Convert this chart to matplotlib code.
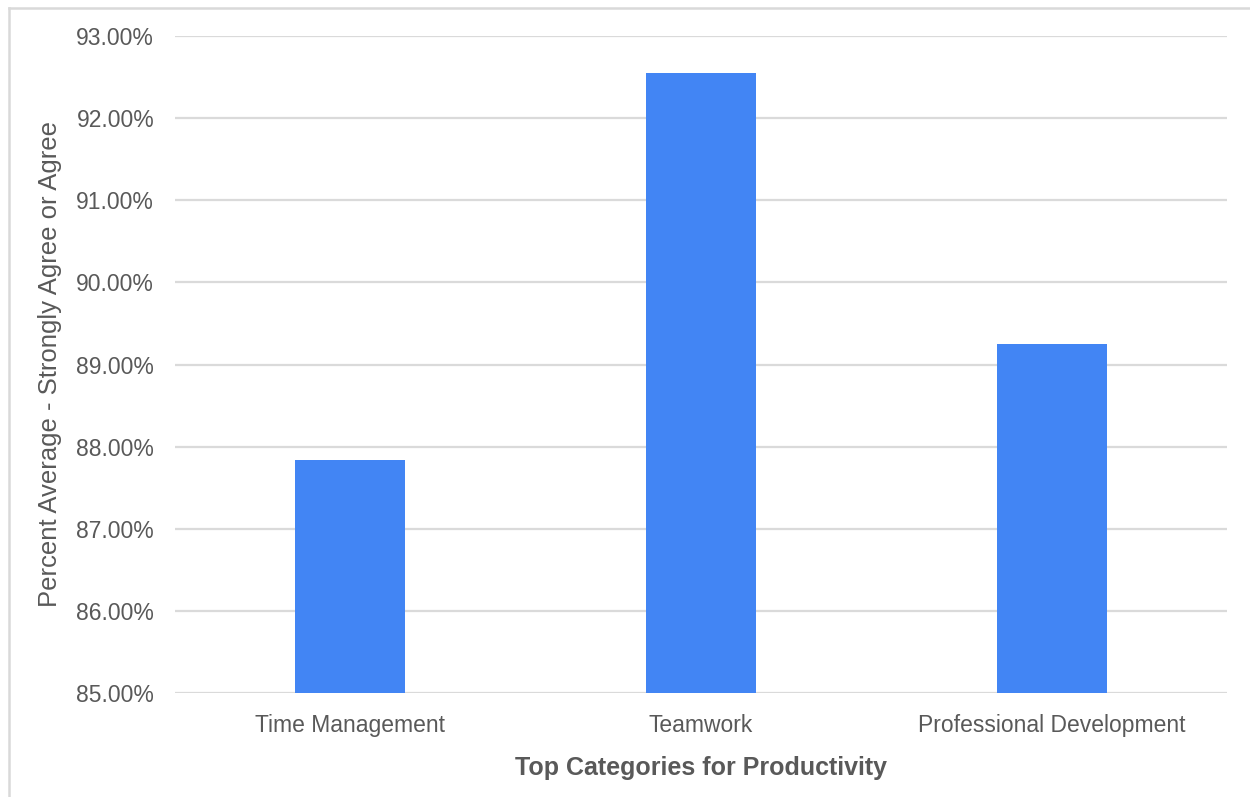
import matplotlib
matplotlib.use("Agg")
import matplotlib.pyplot as plt
from matplotlib.lines import Line2D
from matplotlib.ticker import FuncFormatter

categories = ["Time Management", "Teamwork", "Professional Development"]
values = [87.84, 92.55, 89.25]
yticks = [85, 86, 87, 88, 89, 90, 91, 92, 93]

plt.rcParams['font.family'] = ['Liberation Sans', 'DejaVu Sans']

W, H = 1250, 797
fig = plt.figure(figsize=(W/100, H/100), dpi=100)
ax = fig.add_axes([175/W, 1 - 693/H, 1052/W, 657/H])

x = list(range(len(categories)))
ax.bar(x, values, width=0.314, color="#4285f4", zorder=3)
ax.set_xlim(-0.5, 2.5)
ax.set_ylim(85, 93)
ax.set_yticks(yticks)
ax.yaxis.set_major_formatter(FuncFormatter(lambda v, p: f"{v:.2f}%"))
ax.set_xticks(x)
ax.set_xticklabels(categories)
ax.grid(axis="y", color="#dadada", linewidth=1.6, zorder=0)
for s in ax.spines.values():
    s.set_visible(False)
ax.tick_params(axis="both", length=0, labelsize=16.5, labelcolor="#595959")
ax.tick_params(axis="y", pad=15)
ax.tick_params(axis="x", pad=15)
ax.set_xlabel("Top Categories for Productivity", fontsize=18, fontweight="bold",
              color="#595959", labelpad=14)
ax.set_ylabel("Percent Average - Strongly Agree or Agree", fontsize=18.5,
              color="#595959", labelpad=10)

fig.add_artist(Line2D([9/W, 1], [1 - 8/H, 1 - 8/H], color="#d9d9d9", linewidth=1.8,
                      transform=fig.transFigure))
fig.add_artist(Line2D([9/W, 9/W], [0, 1 - 8/H], color="#d9d9d9", linewidth=1.8,
                      transform=fig.transFigure))

fig.savefig("out.png", dpi=100)
